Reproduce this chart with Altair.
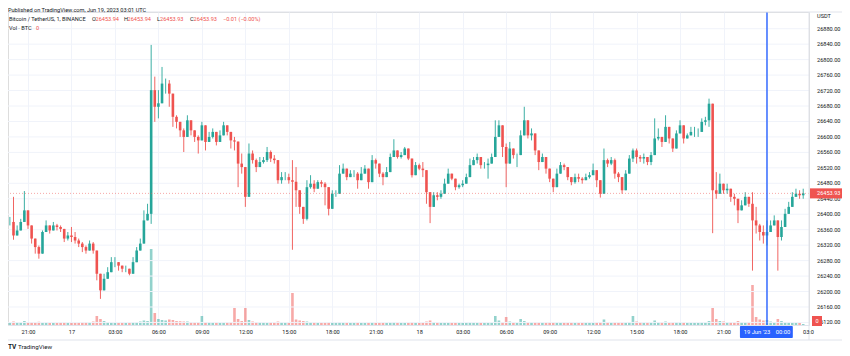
import altair as alt
import pandas as pd

# ---- data (15-minute candles, BTC/USDT) ----
candle_start = "2023-06-16 19:30"
candle_minutes = 15
first_open = 26372

closes = [
    26380, 26380, 26345, 26358, 26380, 26410, 26371, 26337, 26315, 26298,
    26354, 26371, 26358, 26371, 26367, 26362, 26337, 26345, 26341, 26332,
    26324, 26315, 26306, 26324, 26306, 26246, 26203, 26233, 26250, 26276,
    26276, 26267, 26259, 26259, 26246, 26276, 26306, 26324, 26384, 26401,
    26721, 26678, 26687, 26738, 26738, 26712, 26652, 26639, 26617, 26600,
    26643, 26617, 26600, 26591, 26630, 26587, 26600, 26613, 26587, 26604,
    26630, 26613, 26591, 26588, 26531, 26522, 26445, 26557, 26540, 26522,
    26535, 26540, 26561, 26544, 26540, 26488, 26496, 26496, 26488, 26484,
    26462, 26419, 26388, 26470, 26479, 26466, 26483, 26479, 26470, 26414,
    26453, 26453, 26505, 26518, 26496, 26505, 26505, 26488, 26505, 26518,
    26483, 26540, 26531, 26505, 26496, 26509, 26548, 26565, 26548, 26553,
    26570, 26544, 26501, 26527, 26518, 26514, 26457, 26419, 26449, 26445,
    26453, 26479, 26505, 26492, 26470, 26475, 26479, 26496, 26527, 26540,
    26548, 26527, 26527, 26531, 26548, 26600, 26630, 26574, 26531, 26570,
    26553, 26553, 26604, 26643, 26604, 26609, 26565, 26535, 26548, 26518,
    26492, 26470, 26505, 26527, 26522, 26496, 26483, 26496, 26492, 26488,
    26496, 26501, 26514, 26488, 26453, 26540, 26531, 26540, 26505, 26496,
    26462, 26505, 26544, 26565, 26548, 26544, 26548, 26535, 26553, 26596,
    26600, 26587, 26626, 26596, 26570, 26609, 26630, 26596, 26604, 26613,
    26613, 26613, 26639, 26643, 26686, 26462, 26453, 26479, 26462, 26466,
    26445, 26440, 26410, 26423, 26445, 26427, 26384, 26371, 26354, 26345,
    26354, 26371, 26384, 26341, 26367, 26401, 26419, 26445, 26453, 26449,
    26453.93,
]

highs = [
    26396, 26393, 26445, 26371, 26388, 26460, 26401, 26358, 26332, 26319,
    26358, 26384, 26371, 26380, 26375, 26371, 26358, 26354, 26367, 26354,
    26337, 26328, 26319, 26332, 26328, 26298, 26242, 26246, 26263, 26289,
    26289, 26276, 26267, 26267, 26259, 26289, 26315, 26337, 26410, 26427,
    26838, 26756, 26721, 26781, 26751, 26747, 26674, 26656, 26635, 26622,
    26656, 26635, 26617, 26604, 26639, 26617, 26613, 26622, 26596, 26617,
    26639, 26622, 26604, 26600, 26574, 26557, 26522, 26583, 26565, 26544,
    26548, 26548, 26574, 26565, 26553, 26518, 26509, 26509, 26505, 26540,
    26522, 26453, 26410, 26488, 26501, 26488, 26488, 26488, 26483, 26436,
    26462, 26462, 26527, 26531, 26509, 26514, 26514, 26509, 26522, 26527,
    26505, 26553, 26544, 26522, 26509, 26522, 26557, 26594, 26561, 26561,
    26574, 26570, 26531, 26535, 26531, 26535, 26488, 26445, 26457, 26457,
    26462, 26492, 26518, 26505, 26483, 26479, 26488, 26505, 26544, 26548,
    26557, 26535, 26535, 26544, 26557, 26643, 26643, 26626, 26583, 26587,
    26561, 26557, 26617, 26678, 26626, 26622, 26591, 26557, 26557, 26531,
    26505, 26483, 26518, 26535, 26531, 26509, 26492, 26505, 26505, 26496,
    26505, 26509, 26531, 26509, 26479, 26570, 26544, 26548, 26544, 26509,
    26483, 26514, 26553, 26570, 26570, 26553, 26557, 26544, 26561, 26648,
    26622, 26600, 26656, 26617, 26587, 26617, 26643, 26609, 26609, 26626,
    26626, 26622, 26648, 26652, 26699, 26557, 26509, 26505, 26479, 26479,
    26466, 26453, 26427, 26436, 26457, 26445, 26457, 26419, 26375, 26371,
    26384, 26384, 26397, 26371, 26384, 26414, 26432, 26457, 26466, 26462,
    26466,
]

lows = [
    26354, 26371, 26334, 26345, 26358, 26393, 26362, 26324, 26298, 26285,
    26306, 26354, 26350, 26358, 26358, 26354, 26328, 26332, 26328, 26324,
    26315, 26302, 26298, 26306, 26298, 26229, 26181, 26207, 26237, 26259,
    26263, 26254, 26250, 26250, 26242, 26246, 26280, 26311, 26354, 26393,
    26375, 26639, 26648, 26712, 26712, 26678, 26626, 26622, 26600, 26561,
    26600, 26604, 26587, 26557, 26591, 26565, 26587, 26596, 26578, 26591,
    26613, 26604, 26570, 26565, 26470, 26505, 26419, 26488, 26531, 26509,
    26527, 26531, 26535, 26535, 26531, 26479, 26479, 26488, 26479, 26308,
    26419, 26401, 26375, 26384, 26466, 26457, 26470, 26470, 26423, 26397,
    26419, 26445, 26470, 26505, 26488, 26496, 26496, 26466, 26492, 26505,
    26466, 26496, 26518, 26496, 26475, 26501, 26509, 26553, 26544, 26544,
    26561, 26540, 26495, 26505, 26514, 26496, 26427, 26377, 26427, 26436,
    26440, 26457, 26488, 26488, 26462, 26466, 26470, 26488, 26518, 26531,
    26531, 26518, 26518, 26492, 26535, 26553, 26600, 26548, 26470, 26553,
    26544, 26522, 26553, 26613, 26596, 26591, 26553, 26514, 26540, 26505,
    26483, 26457, 26488, 26514, 26514, 26488, 26475, 26479, 26483, 26479,
    26488, 26492, 26505, 26470, 26443, 26470, 26522, 26527, 26492, 26483,
    26453, 26479, 26522, 26535, 26531, 26535, 26531, 26527, 26527, 26565,
    26591, 26574, 26600, 26583, 26561, 26591, 26617, 26583, 26596, 26604,
    26600, 26600, 26626, 26630, 26626, 26351, 26440, 26462, 26453, 26453,
    26432, 26423, 26377, 26410, 26427, 26419, 26254, 26350, 26332, 26324,
    26319, 26362, 26371, 26254, 26332, 26384, 26410, 26427, 26445, 26440,
    26440,
]

volumes = [
    60, 50, 70, 55, 60, 80, 60, 55, 50, 65,
    45, 50, 40, 45, 40, 45, 50, 45, 40, 45,
    50, 55, 60, 55, 70, 180, 120, 80, 60, 50,
    45, 40, 45, 40, 50, 55, 60, 70, 90, 80,
    1520, 240, 120, 100, 90, 110, 100, 80, 75, 70,
    70, 60, 55, 60, 180, 60, 55, 50, 50, 45,
    50, 55, 60, 340, 120, 80, 340, 100, 70, 60,
    55, 50, 45, 50, 50, 70, 55, 50, 50, 640,
    110, 90, 80, 70, 55, 50, 45, 45, 50, 60,
    55, 50, 60, 50, 45, 40, 40, 45, 40, 40,
    45, 50, 40, 40, 45, 40, 50, 60, 45, 40,
    40, 45, 55, 45, 40, 45, 70, 90, 60, 50,
    45, 40, 45, 40, 40, 40, 40, 45, 50, 45,
    45, 40, 40, 45, 50, 180, 90, 60, 160, 70,
    50, 45, 120, 80, 60, 55, 60, 55, 50, 50,
    55, 50, 50, 45, 45, 40, 45, 40, 40, 40,
    40, 40, 45, 50, 60, 110, 60, 50, 55, 50,
    45, 50, 60, 180, 70, 55, 50, 50, 55, 90,
    60, 55, 70, 50, 50, 60, 55, 50, 45, 45,
    45, 45, 50, 50, 80, 340, 120, 80, 70, 60,
    55, 55, 80, 60, 55, 60, 800, 160, 110, 90,
    100, 70, 60, 120, 80, 60, 50, 45, 45, 40,
    20,
]

last_price = 26453.93
price_ticks = list(range(26120, 26881, 40))
time_ticks = [(16, 21)] + [(d, h) for d in (17, 18) for h in range(0, 24, 3)] + [(19, 0)]

UP, DOWN, BLUE = "#26a69a", "#ef5350", "#2962ff"
TXT, GRID, BORDER = "#131722", "#f0f3fa", "#e0e3eb"
FONT = "Roboto"

# ---- table ----
times = pd.date_range(candle_start, periods=len(closes), freq=f"{candle_minutes}min", tz="UTC")
opens = [first_open] + closes[:-1]
rows = []
for t, o, h, l, c, v in zip(times, opens, highs, lows, closes, volumes):
    rows.append(dict(
        t=t.strftime("%Y-%m-%dT%H:%M:%SZ"), open=o, close=c,
        high=max(h, o, c), low=min(l, o, c), volume=v,
        dir="up" if c >= o else "down",
    ))
df = pd.DataFrame(rows)
ticks_df = pd.DataFrame({"p": price_ticks, "label": [f"{p:.2f}" for p in price_ticks]})


def dt(d, h, m=0, s=0):
    return alt.DateTime(year=2023, month=6, date=d, hours=h, minutes=m, seconds=s, utc=True)


W, H = 801, 313
xscale = alt.Scale(type="utc", domain=[dt(16, 19, 37, 12), dt(19, 2, 54)], padding=0, nice=False)
xaxis = alt.Axis(
    values=[dt(d, h) for d, h in time_ticks],
    labelExpr="utchours(datum.value) == 0 ? (utcdate(datum.value) == 19 ? '' : utcFormat(datum.value, '%d')) : utcFormat(datum.value, '%H:%M')",
    tickSize=0, domain=True, domainColor=BORDER, grid=True, gridColor=GRID,
    labelFontSize=5.6, labelColor=TXT, labelFont=FONT, labelPadding=4, title=None,
    labelOverlap=False,
)
yscale = alt.Scale(domain=[26113.4, 26923.2], nice=False, zero=False, padding=0)
color_enc = alt.Color("dir:N", scale=alt.Scale(domain=["up", "down"], range=[UP, DOWN]), legend=None)

base = alt.Chart(df)
one = alt.Chart(pd.DataFrame({"a": [0]}))

hgrid = alt.Chart(ticks_df).mark_rule(color=GRID, strokeWidth=1).encode(
    y=alt.Y("p:Q", scale=yscale, axis=None))
plabels = alt.Chart(ticks_df).mark_text(align="left", baseline="middle", color=TXT, fontSize=5.6,
                                        font=FONT).encode(
    x=alt.value(W + 8), y=alt.Y("p:Q", axis=None), text="label:N")

wicks = base.mark_rule(strokeWidth=0.9, clip=True).encode(
    x=alt.X("t:T", scale=xscale, axis=xaxis),
    y=alt.Y("low:Q", axis=None),
    y2="high:Q",
    color=color_enc,
)
bodies = base.mark_bar(size=2.6, clip=True).encode(
    x=alt.X("t:T", scale=xscale), y=alt.Y("open:Q", axis=None), y2="close:Q", color=color_enc,
)
volume = base.mark_bar(size=2.6, opacity=0.5, clip=True).encode(
    x=alt.X("t:T", scale=xscale, axis=xaxis),
    y=alt.Y("volume:Q", scale=alt.Scale(domain=[0, 6260], padding=0), axis=None),
    color=color_enc,
)

priceline = one.mark_rule(color=DOWN, strokeDash=[1, 2], strokeWidth=1, opacity=0.5).encode(
    y=alt.Y(datum=last_price, axis=None))
pricebox = one.mark_rect(color=DOWN).encode(
    x=alt.value(W + 1), x2=alt.value(W + 33),
    y=alt.Y(datum=last_price - 13, axis=None), y2=alt.Y2(datum=last_price + 13))
pricetext = one.mark_text(align="left", baseline="middle", color="white", fontSize=5.6, font=FONT,
                          text="26453.93").encode(x=alt.value(W + 8), y=alt.Y(datum=last_price, axis=None))

crossline = one.mark_rule(color=BLUE, strokeWidth=1.4).encode(
    x=alt.X(datum=dt(19, 0)), y=alt.value(0), y2=alt.value(H))
datebox = one.mark_rect(color=BLUE, cornerRadius=1).encode(
    x=alt.X(datum=dt(18, 22, 8)), x2=alt.X2(datum=dt(19, 1, 47)), y=alt.value(H + 1), y2=alt.value(H + 13))
date1 = one.mark_text(align="center", baseline="middle", color="white", fontSize=5.8, font=FONT,
                      text="19 Jun '23", dx=-10).encode(x=alt.X(datum=dt(19, 0)), y=alt.value(H + 7))
date2 = one.mark_text(align="center", baseline="middle", color="white", fontSize=5.8, font=FONT,
                      text="00:00", dx=16).encode(x=alt.X(datum=dt(19, 0)), y=alt.value(H + 7))


def txt(s, x, y, color=TXT, size=5.6, align="left", baseline="middle", weight="normal"):
    return one.mark_text(text=s, align=align, baseline=baseline, color=color, fontSize=size,
                         font=FONT, fontWeight=weight).encode(x=alt.value(x), y=alt.value(y))


def hline(x1, x2, y):
    return one.mark_rule(color=BORDER, strokeWidth=1).encode(x=alt.value(x1), x2=alt.value(x2), y=alt.value(y))


texts = [
    txt("Published on TradingView.com, Jun 19, 2023 03:01 UTC", 0, -4, baseline="top"),
    txt("Bitcoin / TetherUS, 1, BINANCE", 1, 7),
    txt("O", 84, 7), txt("26453.94", 87.5, 7, color=DOWN),
    txt("H", 116, 7), txt("26453.94", 119.5, 7, color=DOWN),
    txt("L", 149, 7), txt("26453.93", 152, 7, color=DOWN),
    txt("C", 182, 7), txt("26453.93", 185.5, 7, color=DOWN),
    txt("\u22120.01 (\u22120.00%)", 215, 7, color=DOWN),
    txt("Vol \u00b7 BTC", 1, 16), txt("0", 28, 16, color=DOWN),
    txt("USDT", W + 8, 4),
    txt("03:0", W - 6, H + 7),
    txt("TV", 0, 335, size=6.5, weight="bold"),
    txt("TradingView", 10, 335, size=6.2),
]

volbox = one.mark_rect(color=DOWN).encode(x=alt.value(W + 3), x2=alt.value(W + 13),
                                          y=alt.value(H - 9), y2=alt.value(H + 1))
voltext = txt("0", W + 8, H - 4, color="white", align="center")
rborder = one.mark_rule(color=BORDER, strokeWidth=1).encode(x=alt.value(W), y=alt.value(0), y2=alt.value(H + 15))

price_layer = alt.layer(
    hgrid, wicks, bodies, priceline, crossline, plabels, pricebox, pricetext,
    volbox, voltext, datebox, date1, date2, rborder,
    hline(0, 834, 0), hline(0, 834, H + 15), *texts,
)

chart = alt.layer(volume, price_layer).resolve_scale(y="independent").properties(
    width=W, height=H,
    padding={"left": 0, "top": 4, "right": 33, "bottom": 25},
    autosize=alt.AutoSizeParams(type="none"),
).configure_view(stroke=None).configure(background="white")

chart.save("out.html", embed_options={"renderer": "svg", "actions": False})
